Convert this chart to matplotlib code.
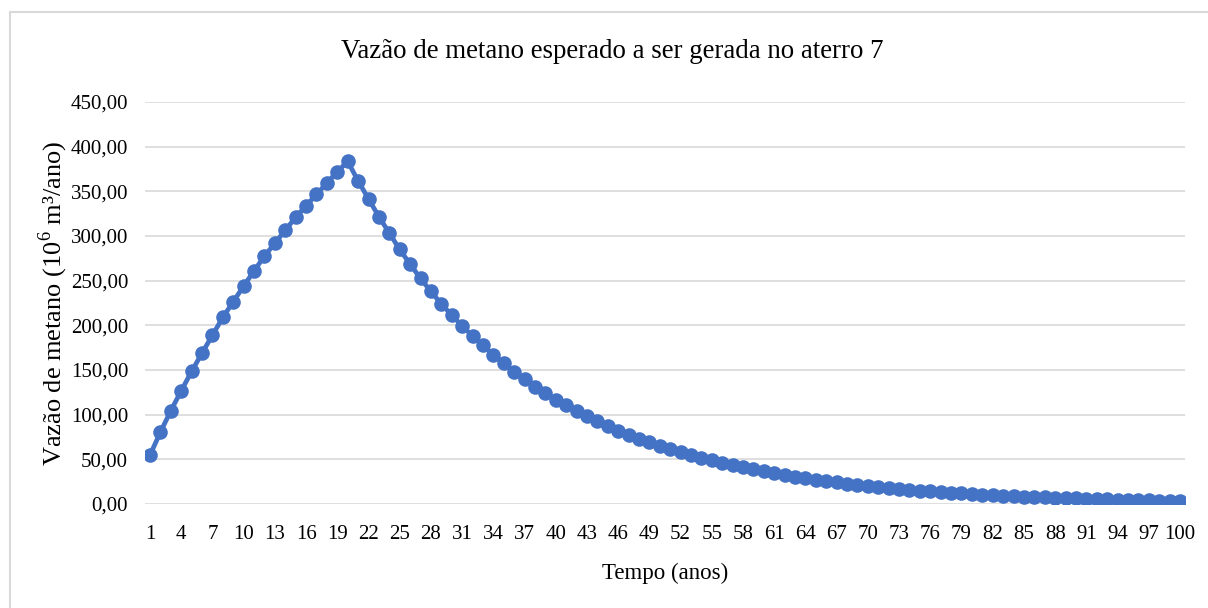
import numpy as np
import matplotlib.pyplot as plt
from matplotlib.lines import Line2D
from matplotlib.ticker import FuncFormatter

plt.rcParams['font.family'] = ['Liberation Serif', 'DejaVu Serif']
plt.rcParams['mathtext.fontset'] = 'custom'
plt.rcParams['mathtext.rm'] = 'Liberation Serif'

# years 1..100
anos = list(range(1, 101))
# methane flow, 10^6 m3/year
vazao_subida = [54.8, 80.6, 104.5, 126.8, 148.5, 169.0, 189.0, 209.0, 226.5, 244.0,
                261.0, 277.5, 292.0, 306.5, 321.0, 334.0, 346.5, 359.5, 372.0, 383.5]
vazao_queda = [361.8, 341.5, 321.7, 303.3, 285.0, 268.5, 252.5, 238.0, 224.0, 211.5,
               199.5, 188.0, 177.5, 167.0, 157.5, 148.0, 139.5, 131.5, 124.0, 117.0,
               110.5, 104.0, 98.0, 92.5, 87.0, 82.0, 77.5, 73.0, 69.0, 65.0,
               61.5, 58.0, 55.0, 52.0, 49.0, 46.0, 43.5, 41.0, 38.8, 36.5,
               34.5, 32.5, 30.6, 28.8, 27.2, 25.6, 24.2, 22.8, 21.5, 20.3,
               19.1, 18.0, 17.0, 16.0, 15.1, 14.2, 13.4, 12.6, 11.9, 11.2,
               10.6, 10.0, 9.4, 8.9, 8.4, 7.9, 7.4, 7.0, 6.6, 6.2,
               5.9, 5.5, 5.2, 4.9, 4.6, 4.4, 4.1, 3.9, 3.6, 3.4]
vazao = vazao_subida + vazao_queda
yticks = [0, 50, 100, 150, 200, 250, 300, 350, 400, 450]
xticks = anos[::3]

fig = plt.figure(figsize=(12.08, 6.08), dpi=100)
ax = fig.add_axes([0.1199, 0.171, 0.8612, 0.6612])

ax.plot(anos, vazao, color='#4472C4', lw=3.4, marker='o', markersize=10.5,
        markeredgewidth=0, zorder=3)

ax.set_xlim(0.5, 100.5)
ax.set_ylim(0, 450)
ax.set_yticks(yticks)
ax.set_xticks(xticks)
ax.yaxis.set_major_formatter(FuncFormatter(lambda v, p: f"{v:.2f}".replace('.', ',')))
ax.grid(axis='y', color='#d9d9d9', lw=1.2)
ax.set_axisbelow(True)
for s in ax.spines.values():
    s.set_visible(False)
ax.tick_params(length=0, labelsize=15, colors='#000000')
ax.tick_params(axis='y', pad=12)
ax.tick_params(axis='x', pad=15)

fig.text(612 / 1208, 1 - 52 / 608, 'Vazão de metano esperado a ser gerada no aterro 7',
         fontsize=19.4, ha='center', va='center')
ax.set_xlabel('Tempo (anos)', fontsize=16.5, labelpad=14)
ax.set_ylabel('Vazão de metano (10$^{6}$ m³/ano)', fontsize=19, labelpad=0.5)

# chart frame
fig.add_artist(Line2D([10 / 1208, 10 / 1208], [0, 1 - 12 / 608], transform=fig.transFigure,
                      color='#d9d9d9', lw=1.5))
fig.add_artist(Line2D([10 / 1208, 1], [1 - 12 / 608, 1 - 12 / 608], transform=fig.transFigure,
                      color='#d9d9d9', lw=1.5))

fig.savefig('out.png', dpi=100)
